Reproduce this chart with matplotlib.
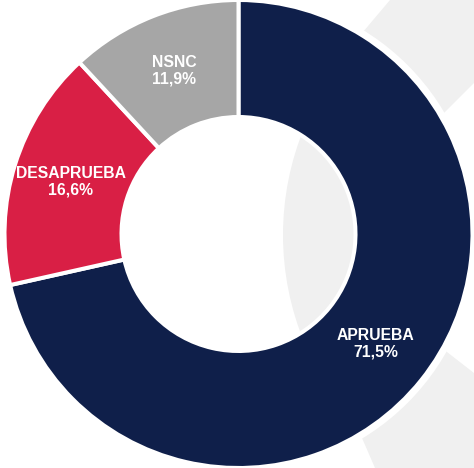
import numpy as np
import matplotlib
matplotlib.use("Agg")
import matplotlib.pyplot as plt
from matplotlib.patches import Circle, Polygon

# ---- data ----
categories = ["APRUEBA", "DESAPRUEBA", "NSNC"]
values = [71.5, 16.6, 11.9]
colors = ["#0f1f4a", "#d91f45", "#a6a6a6"]

W, H = 474, 468
fig = plt.figure(figsize=(W / 100, H / 100), dpi=100)
ax = fig.add_axes([0, 0, 1, 1])
ax.set_xlim(0, W)
ax.set_ylim(0, H)
ax.set_aspect("equal")
ax.axis("off")

def P(x, y):
    return (x, H - y)

cx, cy = 238.5, 234
C = P(cx, cy)
R = 234
inner = 117
bg_gray = "#f0f0f0"

# decorative background shapes
ax.add_patch(Polygon([P(390, 0), P(474, 0), P(474, 83), P(400, 157), P(330, 71)],
                     closed=True, fc=bg_gray, ec="none", zorder=0))
ax.add_patch(Polygon([P(447, 352), P(474, 373), P(474, 468), P(375, 468), P(362, 438), P(340, 380), P(420, 320)],
                     closed=True, fc=bg_gray, ec="none", zorder=0))
# white halo around donut
ax.add_patch(Circle(C, 239, fc="white", ec="none", zorder=1))
# gray inside the hole
hole = Circle(C, inner, transform=ax.transData)
g = Circle(P(565, 235), 282, fc=bg_gray, ec="none", zorder=1.5)
ax.add_patch(g)
g.set_clip_path(hole)

wedges, _ = ax.pie(values, colors=colors, startangle=90, counterclock=False,
                   center=C, radius=R, frame=True,
                   wedgeprops=dict(width=R - inner, edgecolor="white", linewidth=2.9))
for w in wedges:
    w.set_zorder(2)
ax.set_xlim(0, W)
ax.set_ylim(0, H)
ax.axis("off")

rlab = (R + inner) / 2
for w, cat, v in zip(wedges, categories, values):
    mid = np.deg2rad((w.theta1 + w.theta2) / 2)
    x = C[0] + rlab * np.cos(mid)
    y = C[1] + rlab * np.sin(mid)
    ax.text(x, y, f"{cat}\n{v:.1f}%".replace(".", ","), ha="center", va="center",
            color="white", fontsize=11.3, fontweight="bold",
            family=["Liberation Sans", "DejaVu Sans"], linespacing=1.18, zorder=3)

fig.savefig("out.png", dpi=100, facecolor="white")
